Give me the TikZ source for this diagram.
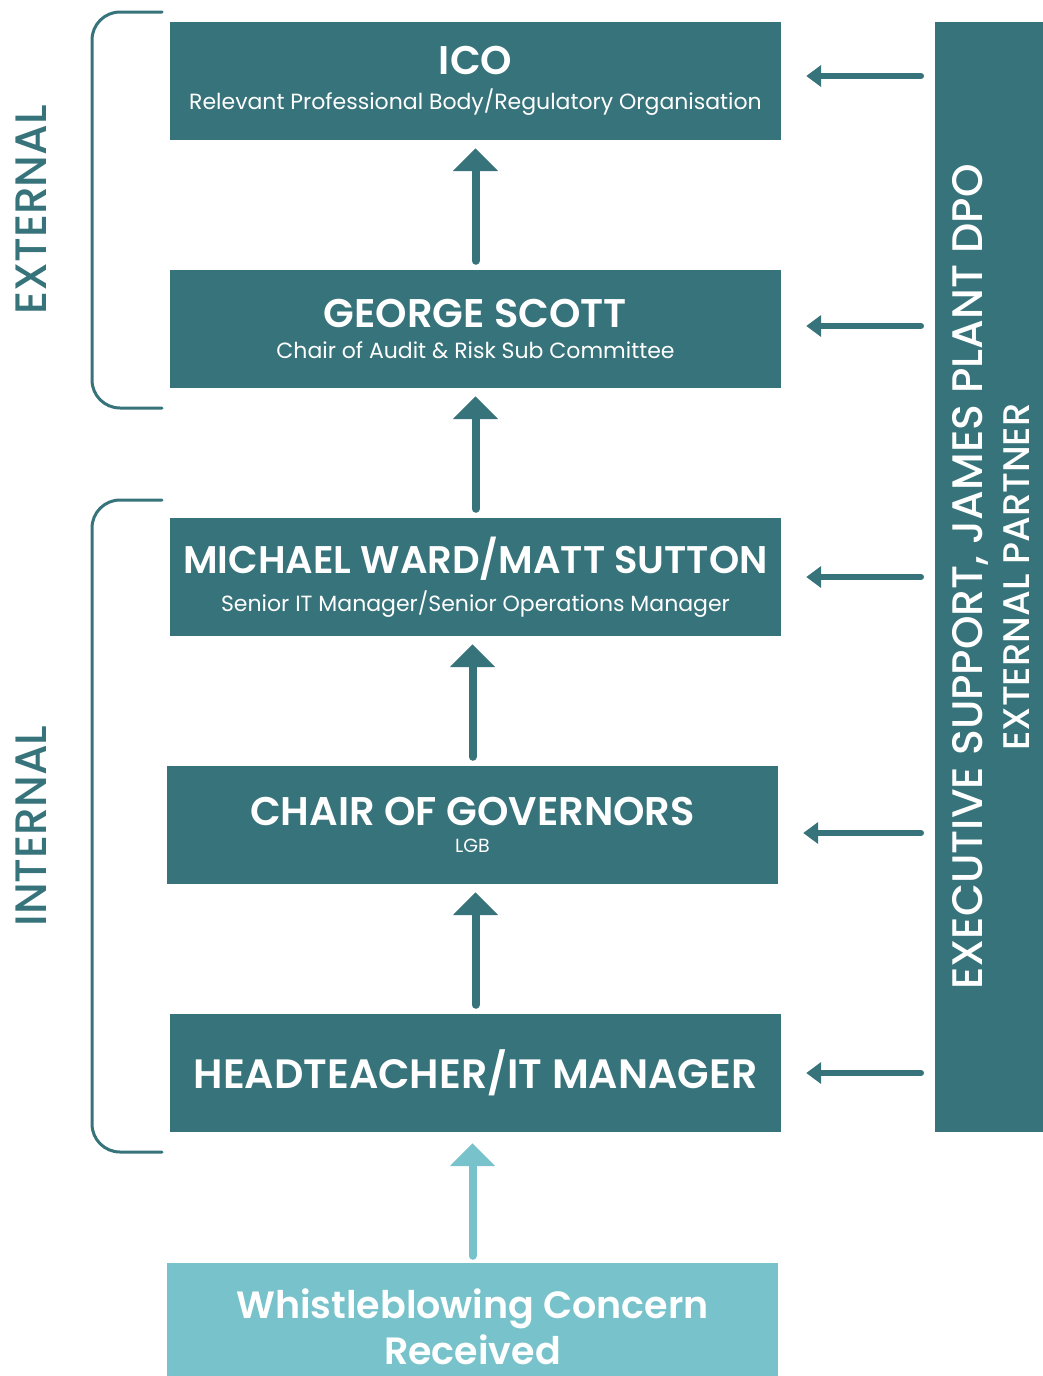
\documentclass[tikz,border=0pt]{standalone}
\usepackage{fontspec}
\setmainfont{Poppins}[BoldFont={Poppins SemiBold}]
\newfontfamily\mediumfont{Poppins Medium}
\usetikzlibrary{positioning,arrows.meta}
\definecolor{darkteal}{HTML}{37737A}
\definecolor{lightteal}{HTML}{78C3CB}
\tikzset{
  stepbox/.style={fill=darkteal, text=white, minimum width=611pt, minimum height=118pt,
    align=center, inner sep=0pt},
  upline/.style={draw=darkteal, line width=8pt, line cap=round,
    -{Triangle[width=44pt,length=23pt]}, shorten <=9pt, shorten >=8pt},
  sideline/.style={draw=darkteal, line width=6.5pt, line cap=round,
    -{Triangle[width=21pt,length=15pt]}, shorten <=14pt, shorten >=25pt},
  bracket/.style={draw=darkteal, line width=3pt, line cap=round, rounded corners=28pt},
  sidelabel/.style={text=darkteal, rotate=90, font=\mediumfont\fontsize{44}{46}\selectfont},
}
\newcommand{\subline}[2][22]{{\fontsize{#1}{26}\selectfont #2}}
\newcommand{\headline}[2][40]{{\fontsize{#1}{44}\selectfont\bfseries #2}}
\begin{document}
\begin{tikzpicture}[x=1pt,y=-1pt]
  \useasboundingbox (0,0) rectangle (1043,1376);

  % boxes, top to bottom
  \node[stepbox] (ico) at (475.5,81) {\headline{ICO}\\[13pt]
    \subline{Relevant Professional Body/Regulatory Organisation}};
  \node[stepbox] (scott) at (475.5,329) {\headline{GEORGE SCOTT}\\[13pt]
    \subline{Chair of Audit \& Risk Sub Committee}};
  \node[stepbox] (ward) at (475.5,577) {\headline[38.5]{MICHAEL WARD/MATT SUTTON}\\[9pt]
    \subline{Senior IT Manager/Senior Operations Manager}};
  \node[stepbox] (chair) at (472.5,825) {\headline{CHAIR OF GOVERNORS}\\[13pt]
    \subline[19]{LGB}};
  \node[stepbox] (head) at (475.5,1073) {\headline[41]{HEADTEACHER/IT MANAGER}};
  \node[stepbox, fill=lightteal, minimum height=128pt,
    font=\fontsize{38}{48}\selectfont\bfseries] (concern) at (472.5,1327)
    {Whistleblowing Concern\\[-2pt]Received};

  % executive support bar
  \node[fill=darkteal, minimum width=108pt, minimum height=1110pt, inner sep=0pt] (exec) at (989,577) {};
  \node[rotate=90, text=white, font=\mediumfont\fontsize{42.7}{46}\selectfont] (execa) at (970,577) {EXECUTIVE SUPPORT, JAMES PLANT DPO};
  \node[rotate=90, text=white, font=\mediumfont\fontsize{37}{40}\selectfont] (execb) at (1017,577) {EXTERNAL PARTNER};

  % upward arrows
  \draw[upline] (scott.north) -- (scott.north |- ico.south);
  \draw[upline] (ward.north) -- (ward.north |- scott.south);
  \draw[upline] (chair.north) -- (chair.north |- ward.south);
  \draw[upline] (head.north) -- (head.north |- chair.south);
  \draw[upline, draw=lightteal, shorten <=7pt, shorten >=11pt] (concern.north) -- (concern.north |- head.south);

  % arrows from the bar
  \foreach \stage/\dy in {ico/5,scott/3,ward/0,chair/-8,head/0}{
    \coordinate (\stage-in) at ([yshift=\dy pt]\stage.east);
    \draw[sideline] (exec.west |- \stage-in) -- (\stage-in);
  }

  % brackets
  \draw[bracket] (162,12) -- (92,12) -- (92,408) -- (162,408);
  \draw[bracket] (162,500) -- (92,500) -- (92,1152) -- (162,1152);
  \node[sidelabel] (external) at (31,210) {EXTERNAL};
  \node[sidelabel] (internal) at (31,826) {INTERNAL};
\end{tikzpicture}
\end{document}
